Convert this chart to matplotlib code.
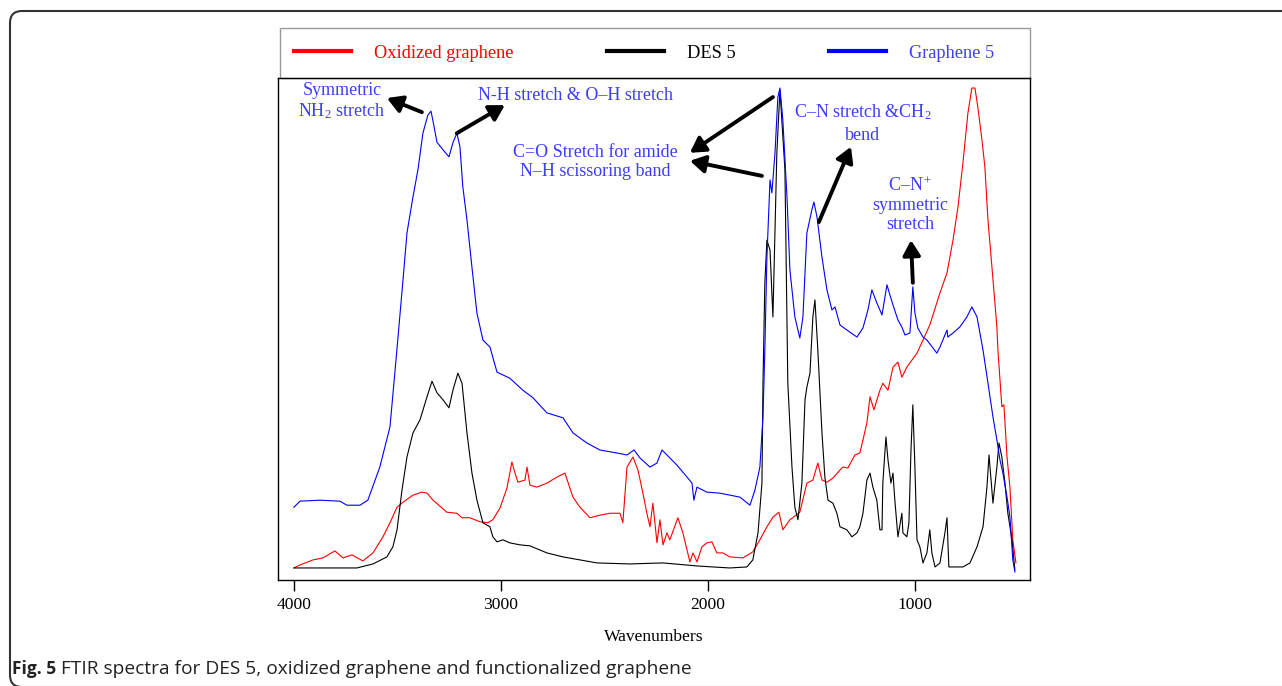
import matplotlib
matplotlib.use('Agg')
import matplotlib.pyplot as plt
from matplotlib.patches import FancyBboxPatch, Rectangle

plt.rcParams['font.family'] = ['Liberation Serif', 'DejaVu Serif']
plt.rcParams['mathtext.fontset'] = 'custom'
plt.rcParams['mathtext.rm'] = 'Liberation Serif'
plt.rcParams['mathtext.it'] = 'Liberation Serif:italic'

# --- data (wavenumber cm-1, intensity a.u.) ---
wn_ox = [4000, 3971, 3908, 3860, 3802, 3763, 3720, 3667, 3618, 3570, 3536, 3502, 3473, 3425,
         3382, 3357, 3328, 3261, 3213, 3188, 3150, 3101, 3063, 3039, 3005, 2971, 2947, 2932,
         2918, 2884, 2874, 2860, 2826, 2778, 2729, 2691, 2652, 2618, 2570, 2522, 2473, 2425,
         2411, 2391, 2362, 2338, 2314, 2295, 2280, 2266, 2246, 2232, 2217, 2198, 2184, 2145,
         2121, 2087, 2072, 2053, 2029, 2005, 1981, 1957, 1928, 1894, 1831, 1783, 1749, 1715,
         1686, 1657, 1638, 1604, 1556, 1522, 1493, 1469, 1449, 1425, 1396, 1362, 1348, 1324,
         1290, 1266, 1251, 1232, 1217, 1198, 1169, 1155, 1130, 1106, 1082, 1063, 1039, 990,
         961, 928, 879, 845, 816, 792, 768, 744, 725, 710, 696, 676, 662, 647, 628, 604, 599,
         580, 570, 555, 541, 527, 512]
ab_ox = [2.4, 3.0, 4.0, 4.4, 5.8, 4.4, 5.0, 3.8, 5.4, 8.6, 11.4, 14.5, 15.5, 16.9,
         17.5, 17.3, 15.9, 13.5, 13.3, 12.4, 12.4, 11.6, 11.4, 12.0, 14.3, 18.3, 23.5, 21.3,
         19.5, 19.9, 22.5, 18.9, 18.5, 19.3, 20.5, 21.3, 16.5, 14.5, 12.4, 12.9, 13.3, 13.3,
         11.4, 22.5, 24.5, 21.9, 17.3, 13.3, 10.6, 15.3, 7.4, 12.0, 7.0, 9.4, 8.0, 12.4,
         9.4, 3.6, 5.4, 3.6, 6.6, 7.4, 7.6, 5.4, 5.4, 4.6, 4.4, 5.6, 8.0, 10.6,
         12.5, 13.5, 10.0, 12.0, 13.5, 19.3, 19.9, 23.3, 19.9, 19.5, 20.3, 21.9, 22.5, 22.3,
         24.9, 25.3, 27.9, 31.3, 36.5, 33.9, 37.8, 39.2, 37.8, 42.4, 43.4, 40.4, 42.4, 45.2,
         47.8, 50.8, 57.2, 61.2, 67.7, 74.3, 83.1, 93.0, 98.0, 98.0, 94.2, 87.6, 82.3, 71.7, 62.4, 50.4, 45.8,
         34.5, 34.9, 24.5, 18.5, 8.0, 3.4]

wn_des = [4000, 3778, 3696, 3618, 3551, 3522, 3502, 3478, 3454, 3425, 3391, 3357, 3333, 3309,
          3280, 3251, 3232, 3208, 3188, 3164, 3140, 3116, 3087, 3053, 3039, 3019, 2990, 2957,
          2908, 2860, 2778, 2700, 2618, 2536, 2377, 2217, 2053, 1976, 1894, 1812, 1783, 1758,
          1739, 1734, 1725, 1715, 1700, 1686, 1667, 1652, 1628, 1614, 1594, 1580, 1565, 1546,
          1531, 1522, 1507, 1493, 1483, 1469, 1449, 1435, 1420, 1396, 1377, 1362, 1329, 1304,
          1280, 1266, 1251, 1232, 1217, 1203, 1184, 1169, 1159, 1155, 1140, 1130, 1116, 1106,
          1097, 1082, 1063, 1058, 1039, 1029, 1019, 1010, 1000, 990, 976, 961, 942, 928, 918,
          903, 879, 855, 845, 836, 816, 768, 734, 700, 671, 652, 642, 623, 604, 594, 580, 565,
          551, 531, 517]
ab_des = [2.4, 2.4, 2.4, 3.2, 4.6, 6.6, 10.0, 17.9, 24.5, 29.3, 31.9, 36.5, 39.6, 37.3,
          35.9, 34.3, 37.8, 41.2, 39.2, 29.3, 21.3, 15.9, 11.4, 10.6, 8.6, 7.6, 8.0, 7.4,
          7.0, 6.8, 5.4, 4.6, 4.0, 3.4, 3.2, 3.4, 2.8, 2.6, 2.4, 2.6, 4.0, 9.4,
          19.3, 39.2, 59.2, 67.7, 65.7, 52.4, 85.1, 97.6, 81.7, 39.2, 22.5, 14.5, 12.0, 19.3,
          35.9, 38.4, 41.2, 52.4, 55.8, 45.8, 29.3, 20.5, 15.9, 15.3, 13.3, 10.6, 10.0, 8.6,
          9.4, 10.6, 13.3, 19.9, 21.3, 18.5, 15.9, 10.0, 10.0, 19.3, 28.5, 23.9, 19.3, 21.3,
          15.9, 8.6, 13.3, 9.4, 8.6, 11.4, 25.9, 34.9, 22.5, 8.0, 6.6, 3.4, 5.4, 10.0, 5.4,
          2.6, 3.4, 9.4, 12.4, 2.6, 2.6, 2.6, 3.4, 6.6, 10.6, 18.5, 24.9, 15.3, 22.5, 27.3, 24.5, 19.3,
          13.3, 8.0, 2.0]

wn_gr = [4000, 3971, 3874, 3778, 3744, 3681, 3643, 3585, 3536, 3507, 3473, 3454, 3425, 3401,
         3377, 3353, 3338, 3329, 3309, 3280, 3251, 3232, 3213, 3198, 3184, 3164, 3140, 3116,
         3087, 3053, 3019, 2957, 2894, 2845, 2778, 2700, 2652, 2585, 2522, 2440, 2391, 2357,
         2328, 2280, 2246, 2222, 2198, 2150, 2101, 2077, 2068, 2053, 2005, 1942, 1845, 1797,
         1773, 1749, 1734, 1725, 1715, 1700, 1691, 1676, 1662, 1652, 1638, 1618, 1604, 1580,
         1556, 1541, 1522, 1498, 1488, 1473, 1449, 1425, 1401, 1386, 1362, 1329, 1280, 1251,
         1227, 1208, 1184, 1159, 1135, 1121, 1106, 1082, 1063, 1048, 1024, 1010, 1000, 986,
         961, 942, 894, 879, 845, 841, 816, 783, 749, 725, 700, 671, 647, 623, 604, 589, 575,
         555, 541, 527, 517]
ab_gr = [14.5, 15.7, 15.9, 15.7, 14.9, 14.9, 15.9, 22.5, 30.5, 43.8, 59.8, 69.1, 76.3, 81.7,
         89.0, 92.6, 93.4, 91.6, 87.2, 85.7, 84.3, 87.1, 89.0, 86.3, 78.3, 71.7, 62.3, 53.2,
         47.8, 46.4, 41.4, 40.2, 37.8, 36.3, 33.3, 32.3, 29.3, 27.3, 25.9, 25.3, 24.9, 25.9,
         24.3, 22.5, 23.3, 25.9, 24.9, 22.9, 20.5, 19.3, 15.9, 18.5, 17.5, 17.3, 16.5, 14.9,
         17.9, 22.5, 32.5, 45.8, 64.3, 79.7, 77.1, 85.1, 96.2, 98.0, 91.6, 76.3, 61.8, 52.4,
         48.2, 52.4, 69.1, 73.7, 75.3, 72.3, 64.3, 57.8, 53.8, 54.4, 50.8, 49.8, 48.4, 50.2,
         53.8, 57.8, 55.2, 52.8, 58.8, 56.8, 54.8, 51.8, 50.4, 48.8, 49.2, 58.4, 53.2, 50.2,
         48.4, 47.8, 45.2, 46.4, 49.8, 48.4, 49.2, 50.4, 52.4, 54.4, 52.4, 45.8, 39.2, 32.5, 27.9, 23.9, 21.3,
         16.5, 12.5, 4.0, 1.6]

series_labels = ['Oxidized graphene', 'DES 5', 'Graphene 5']
tick_vals = [4000, 3000, 2000, 1000]

ann_color = '#3d3dff'

fig = plt.figure(figsize=(12.82, 6.86), dpi=100)
ax = fig.add_axes([278 / 1282, 1 - 580 / 686, 752 / 1282, 502 / 686])

ax.plot(wn_ox, ab_ox, color='#ff0000', lw=0.8, label=series_labels[0])
ax.plot(wn_des, ab_des, color='black', lw=0.8, label=series_labels[1])
ax.plot(wn_gr, ab_gr, color='#0000ff', lw=0.8, label=series_labels[2])

ax.set_xlim(4077, 444)
ax.set_ylim(0, 100)
ax.set_xticks(tick_vals)
ax.set_yticks([])
ax.tick_params(axis='x', direction='out', length=8, width=1, labelsize=12.6, pad=4)
for s in ax.spines.values():
    s.set_linewidth(1)
ax.set_xlabel('Wavenumbers', fontsize=12.6, labelpad=12)

# legend strip above the plot
box = Rectangle((0.002, 1.0), 0.998, 50 / 502, transform=ax.transAxes, fill=False,
                edgecolor='#999999', lw=1, clip_on=False)
ax.add_patch(box)
leg = ax.legend(loc='center left', bbox_to_anchor=(9 / 752, 1.0 + 25 / 502), ncol=3,
                frameon=False, fontsize=13.2, handlelength=3.1, handletextpad=1.25,
                columnspacing=5.1, borderaxespad=0, borderpad=0.4,
                labelcolor=['#ff0000', 'black', '#3d3dff'])
for h in leg.get_lines():
    h.set_linewidth(3)

# annotations
txt = dict(color=ann_color, fontsize=13, ha='center', va='center', linespacing=1.15)
ax.text(3768, 95.4, 'Symmetric\nNH$_2$ stretch', **txt)
ax.text(2642, 96.6, 'N-H stretch & O\u2013H stretch', **txt)
ax.text(2546, 83.2, 'C=O Stretch for amide\nN\u2013H scissoring band', **txt)
ax.text(1251, 91.0, 'C\u2013N stretch &CH$_2$\nbend', color=ann_color, fontsize=13,
        ha='center', va='center', linespacing=1.45)
ax.text(1024, 74.7, 'C\u2013N$^+$\nsymmetric\nstretch', **txt)

arr = dict(arrowstyle='-|>,head_length=0.6,head_width=0.35', color='black', lw=2.8,
           mutation_scale=15, shrinkA=0, shrinkB=0)
ax.annotate('', xy=(3551, 96.0), xytext=(3382, 93.2), arrowprops=arr)
ax.annotate('', xy=(2981, 94.6), xytext=(3213, 89.0), arrowprops=arr)
ax.annotate('', xy=(2087, 85.1), xytext=(1686, 96.2), arrowprops=arr)
ax.annotate('', xy=(2087, 83.5), xytext=(1739, 80.5), arrowprops=arr)
ax.annotate('', xy=(1309, 86.3), xytext=(1464, 71.3), arrowprops=arr)
ax.annotate('', xy=(1019, 67.7), xytext=(1010, 59.2), arrowprops=arr)

# outer rounded frame
frame = FancyBboxPatch((10, -1), 1300, 676, boxstyle='round,pad=0,rounding_size=12',
                       transform=None, fill=False, edgecolor='#333333', lw=1.5, clip_on=False)
fig.patches.append(frame)

# caption
t1 = fig.text(12 / 1282, 1 - 678 / 686, 'Fig. 5', fontsize=12.5, fontweight='bold',
              family=['Open Sans', 'DejaVu Sans'], va='bottom', ha='left', color='#222222')
ax.annotate(' FTIR spectra for DES 5, oxidized graphene and functionalized graphene',
            xy=(1, 0), xycoords=t1, va='bottom', ha='left', fontsize=13.8,
            family=['Open Sans', 'DejaVu Sans'], color='#222222', annotation_clip=False)

fig.savefig('out.png', dpi=100)
